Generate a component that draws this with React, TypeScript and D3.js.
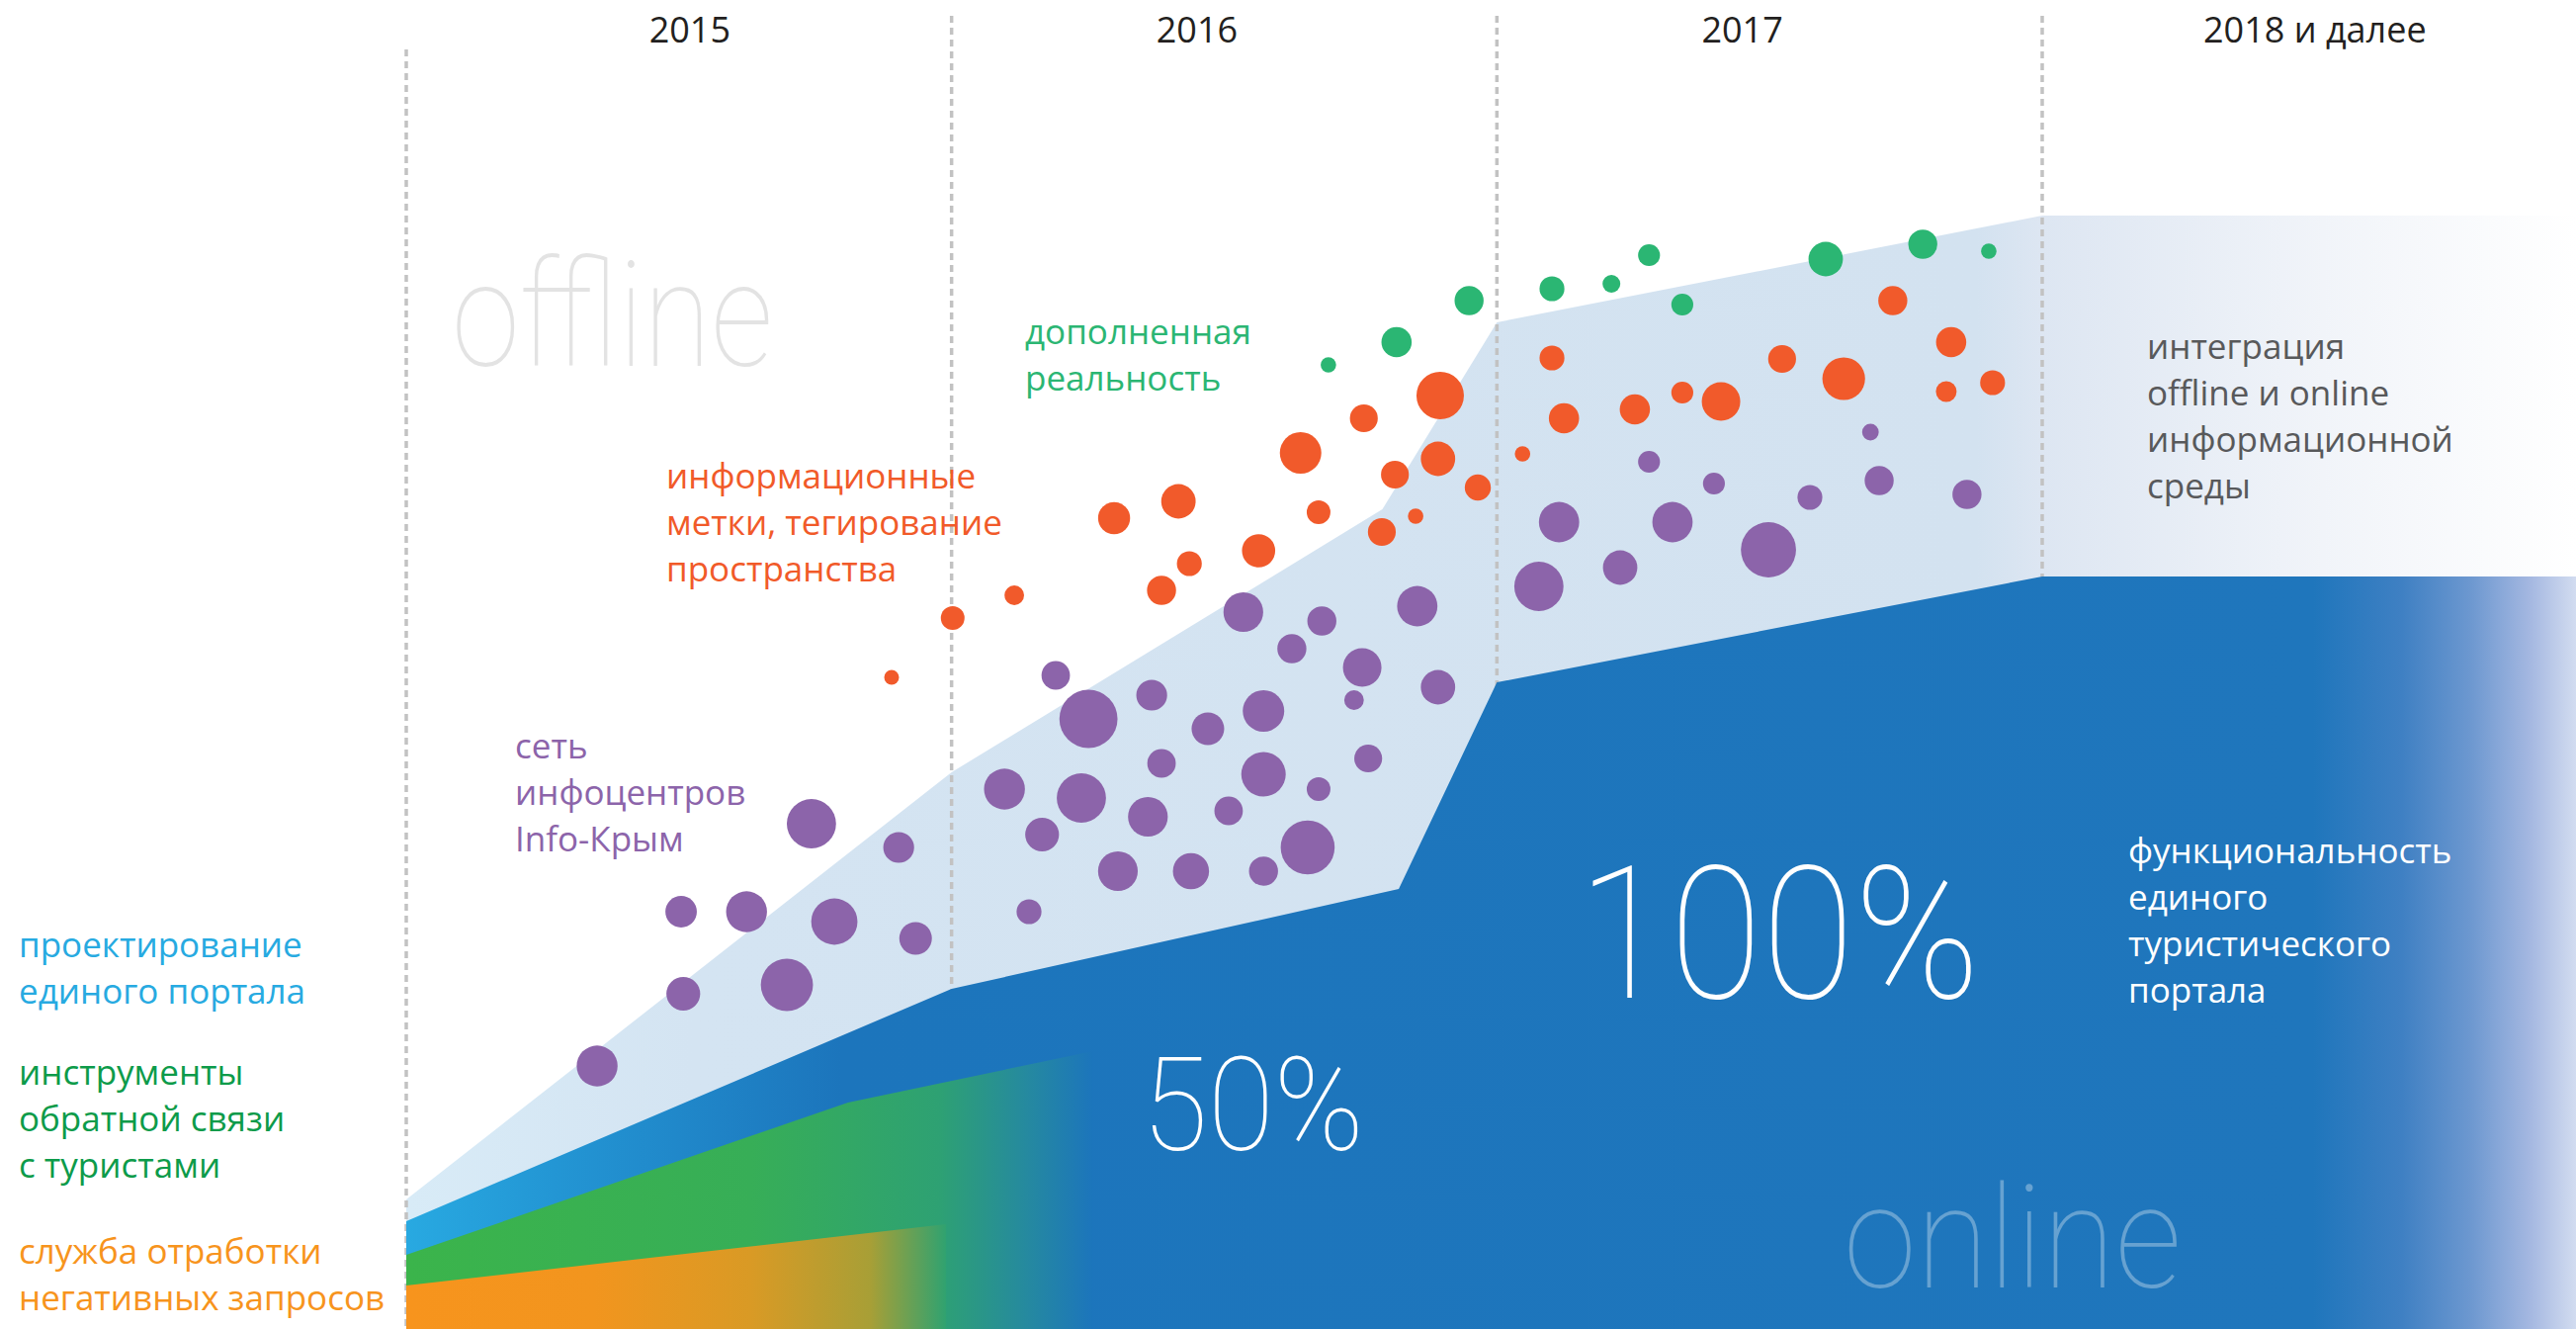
import React from "react";
import * as d3 from "d3";

const W = 2606;
const H = 1344;

// годы (границы колонок) и подписи
const yearTicks = [2015, 2016, 2017, 2018];
const yearLabels = ["2015", "2016", "2017", "2018 и далее"];

// верхние границы слоёв: t - год, v - уровень
const offlineLevels = [
  { t: 2015, v: 13.1 },
  { t: 2016, v: 56.3 },
  { t: 2016.79, v: 82.9 },
  { t: 2017, v: 101.8 },
  { t: 2018, v: 112.6 },
  { t: 2019, v: 112.6 },
];
const portalLevels = [
  { t: 2015, v: 10.9 },
  { t: 2016, v: 34.4 },
  { t: 2016.82, v: 44.5 },
  { t: 2017, v: 65.4 },
  { t: 2018, v: 76.1 },
  { t: 2019, v: 76.1 },
];
const feedbackLevels = [
  { t: 2015, v: 7.5 },
  { t: 2015.81, v: 22.9 },
  { t: 2016.26, v: 28.1 },
];
const negativeLevels = [
  { t: 2015, v: 4.4 },
  { t: 2015.99, v: 10.6 },
];

// точки: [год, уровень, размер]
const infoCenters: [number, number, number][] = [
  [2015.35, 26.6, 6.9], [2015.504, 42.2, 5.3], [2015.508, 33.9, 5.7], [2015.624, 42.2, 6.9],
  [2015.698, 34.8, 8.8], [2015.743, 51.1, 8.3], [2015.785, 41.2, 7.8], [2015.903, 48.7, 5.2],
  [2015.934, 39.5, 5.5], [2016.097, 54.6, 6.9], [2016.142, 42.2, 4.2], [2016.166, 50.0, 5.7],
  [2016.191, 66.1, 4.8], [2016.238, 53.7, 8.3], [2016.251, 61.7, 9.8], [2016.305, 46.3, 6.7],
  [2016.36, 51.8, 6.7], [2016.367, 64.1, 5.2], [2016.385, 57.2, 4.8], [2016.439, 46.3, 6.1],
  [2016.47, 60.7, 5.5], [2016.508, 52.4, 4.8], [2016.535, 72.5, 6.7], [2016.572, 62.5, 7.0],
  [2016.572, 56.1, 7.5], [2016.572, 46.3, 4.9], [2016.624, 68.8, 4.9], [2016.653, 48.7, 9.1],
  [2016.673, 54.6, 4.0], [2016.679, 71.6, 4.9], [2016.738, 63.6, 3.3], [2016.753, 66.9, 6.5],
  [2016.764, 57.7, 4.7], [2016.854, 73.1, 6.8], [2016.892, 64.9, 5.8], [2017.077, 75.1, 8.3],
  [2017.114, 81.6, 6.8], [2017.226, 77.0, 5.8], [2017.279, 87.7, 3.7], [2017.322, 81.6, 6.8],
  [2017.398, 85.5, 3.7], [2017.498, 78.8, 9.3], [2017.574, 84.1, 4.2], [2017.685, 90.7, 2.8],
  [2017.701, 85.8, 4.9], [2017.862, 84.4, 4.9],
];
const tags: [number, number, number][] = [
  [2015.89, 65.9, 2.5], [2016.002, 71.9, 4.0], [2016.115, 74.2, 3.3], [2016.298, 82.0, 5.4],
  [2016.416, 83.7, 5.8], [2016.436, 77.4, 4.2], [2016.385, 74.7, 4.9], [2016.563, 78.7, 5.6],
  [2016.64, 88.6, 7.0], [2016.673, 82.6, 4.0], [2016.756, 92.1, 4.7], [2016.896, 94.4, 8.0],
  [2016.813, 86.4, 4.7], [2016.892, 88.0, 5.8], [2016.789, 80.6, 4.7], [2016.851, 82.2, 2.6],
  [2016.965, 85.1, 4.4], [2017.047, 88.5, 2.6], [2017.101, 98.2, 4.2], [2017.123, 92.1, 5.1],
  [2017.253, 93.0, 5.1], [2017.34, 94.7, 3.7], [2017.411, 93.8, 6.5], [2017.523, 98.1, 4.7],
  [2017.636, 96.1, 7.2], [2017.726, 104.0, 4.9], [2017.833, 99.8, 5.1], [2017.824, 94.8, 3.5],
  [2017.909, 95.7, 4.2],
];
const augmented: [number, number, number][] = [
  [2016.691, 97.5, 2.6], [2016.816, 99.8, 5.1], [2016.949, 104.0, 4.9], [2017.101, 105.2, 4.2],
  [2017.21, 105.7, 3.0], [2017.279, 108.6, 3.7], [2017.34, 103.6, 3.7], [2017.603, 108.2, 5.8],
  [2017.781, 109.7, 4.9], [2017.902, 109.0, 2.6],
];

const leftLabels = [
  { lines: ["проектирование", "единого портала"], color: "#27aae1", y: 968 },
  { lines: ["инструменты", "обратной связи", "с туристами"], color: "#0d9b4a", y: 1097 },
  { lines: ["служба отработки", "негативных запросов"], color: "#f7941d", y: 1278 },
];
const innerLabels = [
  { lines: ["сеть", "инфоцентров", "Info-Крым"], color: "#8c64aa", x: 521, y: 767 },
  { lines: ["информационные", "метки, тегирование", "пространства"], color: "#f15a29", x: 674, y: 494 },
  { lines: ["дополненная", "реальность"], color: "#2bb673", x: 1037, y: 348 },
  { lines: ["интеграция", "offline и online", "информационной", "среды"], color: "#58595b", x: 2172, y: 363 },
  { lines: ["функциональность", "единого", "туристического", "портала"], color: "#ffffff", x: 2153, y: 873 },
];

const x = d3.scaleLinear().domain([2015, 2018]).range([411, 2066]);
const y = d3.scaleLinear().domain([0, 130]).range([H, 44]);
const r = d3.scaleLinear().domain([0, 10]).range([0, 30]);

type P = { t: number; v: number };
const area = d3
  .area<P>()
  .x(d => x(d.t))
  .y0(H)
  .y1(d => y(d.v));

const grad = (id: string, stops: [number, string][]) => (
  <linearGradient id={id} gradientUnits="userSpaceOnUse" x1={0} x2={W} y1={0} y2={0}>
    {stops.map(([px, c], i) => (
      <stop key={i} offset={px / W} stopColor={c} />
    ))}
  </linearGradient>
);

const font = "'Open Sans', sans-serif";
const thin = "Roboto, 'Open Sans', sans-serif";

const App: React.FC = () => {
  const dots = (data: [number, number, number][], color: string) =>
    data.map((d, i) => <circle key={i} cx={x(d[0])} cy={y(d[1])} r={r(d[2])} fill={color} />);

  return (
    <svg width={W} height={H} style={{ position: "absolute", left: 0, top: 0, background: "#fff" }}>
      <defs>
        {grad("gOffline", [[412, "#d8ebf7"], [700, "#d4e4f2"], [2000, "#d3e2f0"], [2066, "#dde6f2"], [2350, "#f1f4f9"], [2606, "#ffffff"]])}
        {grad("gPortal", [[412, "#28a9e1"], [560, "#2396d4"], [850, "#1c75bc"], [2340, "#1f76bc"], [2430, "#3f80c3"], [2500, "#6d98d0"], [2560, "#a5b8e1"], [2606, "#d2dcf0"]])}
        {grad("gFeedback", [[413, "#3bb44b"], [760, "#37ae57"], [950, "#2ea173"], [1040, "#2589a0"], [1106, "#1c75bc"]])}
        {grad("gNegative", [[413, "#f7941d"], [600, "#f2951e"], [760, "#d99a25"], [880, "#a89f36"], [957, "#30a270"]])}
      </defs>

      <path d={area(offlineLevels) || ""} fill="url(#gOffline)" />

      {yearTicks.map((t, i) => (
        <line
          key={t}
          x1={x(t)}
          x2={x(t)}
          y1={i === 0 ? 50 : 16}
          y2={H}
          stroke="#c2c2c2"
          strokeWidth={3.5}
          strokeDasharray="7 5"
        />
      ))}

      <path d={area(portalLevels) || ""} fill="url(#gPortal)" />
      <path d={area(feedbackLevels) || ""} fill="url(#gFeedback)" />
      <path d={area(negativeLevels) || ""} fill="url(#gNegative)" />

      <text x={457} y={370} fontFamily={thin} fontWeight={100} fontSize={148} fill="#e3e3e3" textLength={325} lengthAdjust="spacingAndGlyphs">
        offline
      </text>
      <text x={1155} y={1163} fontFamily={thin} fontWeight={100} fontSize={132} fill="#ffffff" textLength={225} lengthAdjust="spacingAndGlyphs">
        50%
      </text>
      <text x={1596} y={1009} fontFamily={thin} fontWeight={100} fontSize={187} fill="#ffffff" textLength={407} lengthAdjust="spacingAndGlyphs">
        100%
      </text>
      <text x={1865} y={1302} fontFamily={thin} fontWeight={100} fontSize={145} fill="#ffffff" fillOpacity={0.32} textLength={342} lengthAdjust="spacingAndGlyphs">
        online
      </text>

      {leftLabels.map((b, i) => (
        <text key={i} fontFamily={font} fontSize={35} fill={b.color}>
          {b.lines.map((l, j) => (
            <tspan key={j} x={19} y={b.y + j * 47}>
              {l}
            </tspan>
          ))}
        </text>
      ))}
      {innerLabels.map((b, i) => (
        <text key={i} fontFamily={font} fontSize={35} fill={b.color}>
          {b.lines.map((l, j) => (
            <tspan key={j} x={b.x} y={b.y + j * 47}>
              {l}
            </tspan>
          ))}
        </text>
      ))}

      {dots(infoCenters, "#8c64aa")}
      {dots(tags, "#f15a2b")}
      {dots(augmented, "#2bb673")}

      {yearLabels.map((l, i) => (
        <text
          key={l}
          x={x(yearTicks[i] + (i === 0 ? 0.52 : i === 3 ? 0.5 : 0.45))}
          y={43}
          textAnchor="middle"
          fontFamily={font}
          fontSize={36}
          fill="#231f20"
        >
          {l}
        </text>
      ))}
    </svg>
  );
};

export default App;
